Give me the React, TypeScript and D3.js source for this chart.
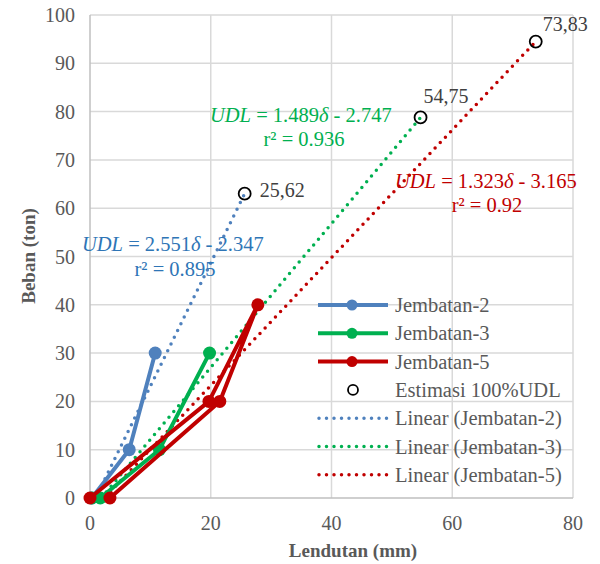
import React, { useEffect, useRef } from "react";
import * as d3 from "d3";

// measured series (Lendutan mm, Beban ton)
const j2X = [0.3, 6.5, 10.8];
const j2Y = [0, 10, 30];
const j3X = [0.3, 1.7, 11.5, 19.8];
const j3Y = [0, 0, 10, 30];
const j5X = [0, 19.7, 27.8, 21.5, 3.3];
const j5Y = [0, 20, 40, 20, 0];

// linear trend coefficients + 100% UDL estimates
const seriesNames = ["Jembatan-2", "Jembatan-3", "Jembatan-5"];
const slopes = [2.551, 1.489, 1.323];
const intercepts = [-2.347, -2.747, -3.165];
const r2 = ["0.895", "0.936", "0.92"];
const estX = [25.62, 54.75, 73.83];
const estY = [63.0, 78.8, 94.5];
const estLabels = ["25,62", "54,75", "73,83"];

const xTicks = [0, 20, 40, 60, 80];
const yTicks = [0, 10, 20, 30, 40, 50, 60, 70, 80, 90, 100];

const colors = ["#4f81bd", "#00b050", "#c00000"];
const textColors = ["#2e75b6", "#00b050", "#c00000"];
const FONT = "Liberation Serif, DejaVu Serif, Times New Roman, serif";

export default function App() {
  const ref = useRef<SVGSVGElement>(null);

  useEffect(() => {
    const svg = d3.select(ref.current);
    svg.selectAll("*").remove();

    const x = d3.scaleLinear().domain([0, 80]).range([90, 573]);
    const y = d3.scaleLinear().domain([0, 100]).range([498, 15]);

    svg.append("defs").append("clipPath").attr("id", "plot")
      .append("rect").attr("x", 90).attr("y", 15).attr("width", 483).attr("height", 483);

    // gridlines
    svg.append("g").selectAll("line").data(yTicks.slice(1)).join("line")
      .attr("x1", 90).attr("x2", 573)
      .attr("y1", d => y(d)).attr("y2", d => y(d))
      .attr("stroke", "#d9d9d9").attr("stroke-width", 1.5);
    svg.append("g").selectAll("line").data(xTicks.slice(1)).join("line")
      .attr("y1", 15).attr("y2", 498)
      .attr("x1", d => x(d)).attr("x2", d => x(d))
      .attr("stroke", "#d9d9d9").attr("stroke-width", 1.5);
    // axis lines
    svg.append("line").attr("x1", 90).attr("x2", 90).attr("y1", 15).attr("y2", 498)
      .attr("stroke", "#bfbfbf").attr("stroke-width", 1.5);
    svg.append("line").attr("x1", 90).attr("x2", 573).attr("y1", 498).attr("y2", 498)
      .attr("stroke", "#bfbfbf").attr("stroke-width", 1.5);

    // tick labels
    svg.append("g").selectAll("text").data(yTicks).join("text")
      .attr("x", 75).attr("y", d => y(d) + 7)
      .attr("text-anchor", "end")
      .style("font-family", FONT).attr("font-size", 20).attr("fill", "#595959")
      .text(d => d);
    svg.append("g").selectAll("text").data(xTicks).join("text")
      .attr("x", d => x(d)).attr("y", 530)
      .attr("text-anchor", "middle")
      .style("font-family", FONT).attr("font-size", 20).attr("fill", "#595959")
      .text(d => d);

    // axis titles
    svg.append("text").attr("x", 353).attr("y", 557)
      .attr("text-anchor", "middle").style("font-family", FONT)
      .attr("font-size", 19).attr("font-weight", "bold").attr("fill", "#595959")
      .text("Lendutan (mm)");
    svg.append("text").attr("transform", "translate(35,256) rotate(-90)")
      .attr("text-anchor", "middle").style("font-family", FONT)
      .attr("font-size", 19).attr("font-weight", "bold").attr("fill", "#595959")
      .text("Beban (ton)");

    const plot = svg.append("g").attr("clip-path", "url(#plot)");

    // trendlines (dotted)
    const seriesX = [j2X, j3X, j5X];
    const seriesY = [j2Y, j3Y, j5Y];
    seriesNames.forEach((_, i) => {
      const x0 = d3.min(seriesX[i]) as number;
      const x1 = estX[i];
      plot.append("line")
        .attr("x1", x(x0)).attr("y1", y(slopes[i] * x0 + intercepts[i]))
        .attr("x2", x(x1)).attr("y2", y(slopes[i] * x1 + intercepts[i]))
        .attr("stroke", colors[i]).attr("stroke-width", 3.5)
        .attr("stroke-linecap", "round").attr("stroke-dasharray", "0 7.5");
    });

    // measured series
    const line = d3.line<[number, number]>().x(d => x(d[0])).y(d => y(d[1]));
    seriesNames.forEach((_, i) => {
      const pts = seriesX[i].map((v, k) => [v, seriesY[i][k]] as [number, number]);
      const g = svg.append("g");
      g.append("path").attr("d", line(pts))
        .attr("fill", "none").attr("stroke", colors[i]).attr("stroke-width", 4)
        .attr("stroke-linejoin", "round");
      g.selectAll("circle").data(pts).join("circle")
        .attr("cx", d => x(d[0])).attr("cy", d => y(d[1])).attr("r", 6.5)
        .attr("fill", colors[i]);
    });

    // 100% UDL estimates
    const labelOffset = [[15, 6], [3, -11], [7, -8]];
    svg.append("g").selectAll("circle").data(estX).join("circle")
      .attr("cx", d => x(d)).attr("cy", (d, i) => y(estY[i])).attr("r", 6)
      .attr("fill", "none").attr("stroke", "#000").attr("stroke-width", 1.8);
    svg.append("g").selectAll("text").data(estLabels).join("text")
      .attr("x", (d, i) => x(estX[i]) + labelOffset[i][0])
      .attr("y", (d, i) => y(estY[i]) + labelOffset[i][1] - 3)
      .style("font-family", FONT).attr("font-size", 20).attr("fill", "#404040")
      .text(d => d);

    // equation labels
    const eqPos = [
      { x: 82, y: 251, rx: 175, ry: 276 },
      { x: 210, y: 122, rx: 304, ry: 146 },
      { x: 395, y: 188, rx: 487, ry: 212 },
    ];
    seriesNames.forEach((_, i) => {
      const t = svg.append("text").attr("x", eqPos[i].x).attr("y", eqPos[i].y)
        .style("font-family", FONT).attr("font-size", 20.5).attr("fill", textColors[i]);
      t.append("tspan").attr("font-style", "italic").text("UDL");
      t.append("tspan").text(` = ${slopes[i].toFixed(3)}`);
      t.append("tspan").attr("font-style", "italic").text("δ");
      t.append("tspan").text(` - ${Math.abs(intercepts[i]).toFixed(3)}`);
      svg.append("text").attr("x", eqPos[i].rx).attr("y", eqPos[i].ry)
        .attr("text-anchor", "middle")
        .style("font-family", FONT).attr("font-size", 20.5).attr("fill", textColors[i])
        .text(`r² = ${r2[i]}`);
    });

    // legend
    const legendItems = [
      ...seriesNames.map((n, i) => ({ label: n, kind: "series", c: colors[i] })),
      { label: "Estimasi 100%UDL", kind: "est", c: "#000" },
      ...seriesNames.map((n, i) => ({ label: `Linear (${n})`, kind: "trend", c: colors[i] })),
    ];
    const lg = svg.append("g");
    legendItems.forEach((it, k) => {
      const cy = 305 + k * 28.3;
      if (it.kind === "series") {
        lg.append("line").attr("x1", 318).attr("x2", 388).attr("y1", cy).attr("y2", cy)
          .attr("stroke", it.c).attr("stroke-width", 4);
        lg.append("circle").attr("cx", 352).attr("cy", cy).attr("r", 5.5).attr("fill", it.c);
      } else if (it.kind === "est") {
        lg.append("circle").attr("cx", 353).attr("cy", cy).attr("r", 5)
          .attr("fill", "none").attr("stroke", "#000").attr("stroke-width", 1.8);
      } else {
        lg.append("line").attr("x1", 319).attr("x2", 388).attr("y1", cy).attr("y2", cy)
          .attr("stroke", it.c).attr("stroke-width", 3.5)
          .attr("stroke-linecap", "round").attr("stroke-dasharray", "0 7.5");
      }
      lg.append("text").attr("x", 395).attr("y", cy + 7)
        .style("font-family", FONT).attr("font-size", 20.5).attr("fill", "#595959")
        .text(it.label);
    });
  }, []);

  return (
    <div style={{ position: "absolute", left: 0, top: 0 }}>
      <svg ref={ref} width={600} height={564} style={{ display: "block", background: "#fff" }} />
    </div>
  );
}
